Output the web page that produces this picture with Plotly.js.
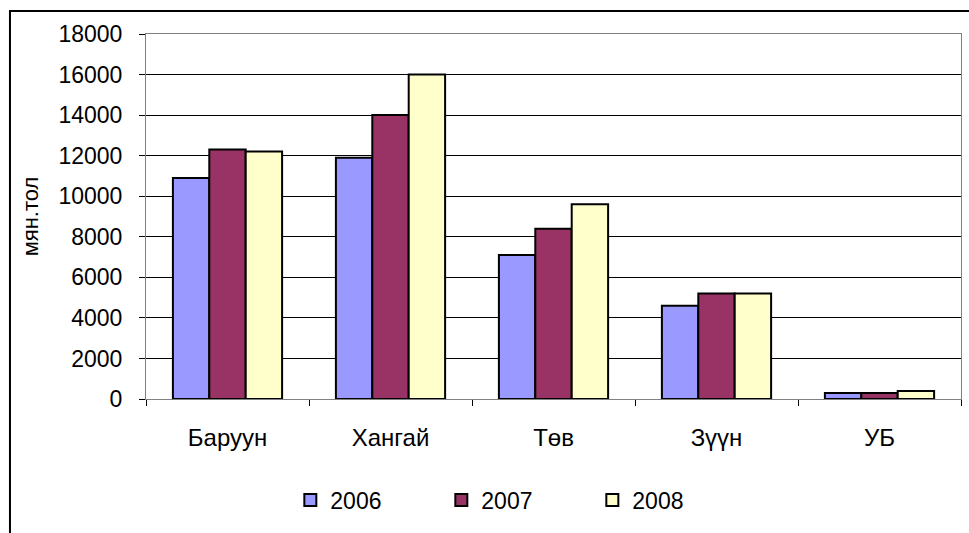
<!DOCTYPE html>
<html>
<head>
<meta charset="utf-8">
<script src="https://cdn.plot.ly/plotly-3.0.1.min.js"></script>
<style>
html,body{margin:0;padding:0;background:#fff;}
#chart{width:969px;height:533px;}
</style>
</head>
<body>
<div id="chart"></div>
<script>
var regions = ["Баруун", "Хангай", "Төв", "Зүүн", "УБ"];
var years = ["2006", "2007", "2008"];
var values2006 = [10900, 11900, 7100, 4600, 300];
var values2007 = [12300, 14000, 8400, 5200, 300];
var values2008 = [12200, 16000, 9600, 5200, 400];
var yTicks = [0, 2000, 4000, 6000, 8000, 10000, 12000, 14000, 16000, 18000];
var yTitle = "мян.тол";

var colors = ["#9999FF", "#993366", "#FFFFCC"];
var series = [values2006, values2007, values2008];

var traces = series.map(function (vals, i) {
  return {
    type: "bar",
    name: years[i],
    x: regions,
    y: vals,
    marker: { color: colors[i], line: { color: "#000000", width: 2 } },
    hoverinfo: "x+y+name"
  };
});

var layout = {
  width: 969,
  height: 533,
  margin: { l: 146, r: 8, t: 34, b: 134 },
  paper_bgcolor: "#ffffff",
  plot_bgcolor: "#ffffff",
  font: { family: "Liberation Sans, Arial, sans-serif", color: "#000000", size: 22 },
  barmode: "group",
  bargap: 0.33,
  bargroupgap: 0,
  showlegend: true,
  legend: {
    orientation: "h",
    x: 0.455,
    xanchor: "center",
    y: -0.277,
    yanchor: "middle",
    font: { size: 23 },
    entrywidth: 106,
    entrywidthmode: "pixels",
    itemwidth: 30,
    traceorder: "normal"
  },
  xaxis: {
    type: "category",
    range: [-0.5, 4.5],
    showline: true,
    linecolor: "#808080",
    linewidth: 1,
    mirror: true,
    ticks: "outside",
    tickson: "boundaries",
    ticklen: 6,
    tickcolor: "#000000",
    ticklabelstandoff: 17,
    tickfont: { size: 24 },
    showgrid: false,
    zeroline: false
  },
  yaxis: {
    range: [0, 18000],
    tickvals: yTicks,
    ticktext: yTicks.map(String),
    showline: true,
    linecolor: "#808080",
    linewidth: 1,
    mirror: true,
    ticks: "outside",
    ticklen: 6,
    tickcolor: "#000000",
    ticklabelstandoff: 12,
    tickfont: { size: 23 },
    showgrid: true,
    gridcolor: "#000000",
    gridwidth: 1,
    zeroline: false,
    title: { text: yTitle, font: { size: 22 }, standoff: 13 }
  },
  shapes: [{
    type: "rect",
    xref: "paper",
    yref: "paper",
    x0: -0.1669,
    x1: 1.2,
    y0: -0.6,
    y1: 1.063,
    line: { color: "#000000", width: 2 },
    fillcolor: "rgba(0,0,0,0)",
    layer: "above"
  }]
};

Plotly.newPlot("chart", traces, layout, { displayModeBar: false, responsive: false });
</script>
</body>
</html>
